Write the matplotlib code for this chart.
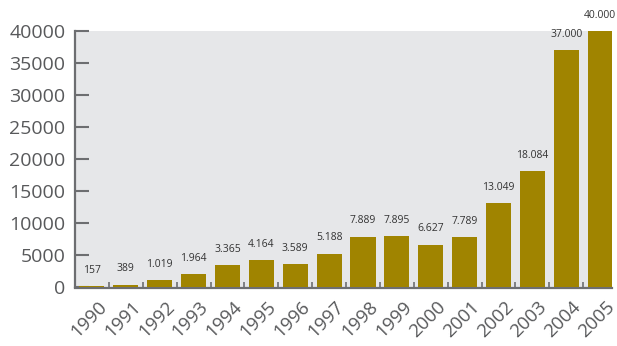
import matplotlib
matplotlib.use("Agg")
import matplotlib.pyplot as plt
from matplotlib.ticker import FixedLocator
import matplotlib.transforms as mtransforms

years = ["1990", "1991", "1992", "1993", "1994", "1995", "1996", "1997",
         "1998", "1999", "2000", "2001", "2002", "2003", "2004", "2005"]
values = [157, 389, 1019, 1964, 3365, 4164, 3589, 5188,
          7889, 7895, 6627, 7789, 13049, 18084, 37000, 40000]
y_ticks = [0, 5000, 10000, 15000, 20000, 25000, 30000, 35000, 40000]

plt.rcParams['font.family'] = ['Open Sans', 'DejaVu Sans']

BAR = "#A08400"
BG = "#E6E7E9"
AXIS = "#6D6E71"
TXT = "#58595B"

fig = plt.figure(figsize=(6.17, 3.46), dpi=100)
ax = fig.add_axes([75 / 617, 1 - 287 / 346, (612 - 75) / 617, (287 - 31) / 346])
ax.set_facecolor(BG)

x = list(range(len(years)))
ax.bar(x, values, width=0.74, color=BAR, zorder=3)

for xi, v in zip(x, values):
    label = f"{v:,}".replace(",", ".")
    ax.annotate(label, (xi, v), xytext=(0, 7.5), textcoords="offset points",
                ha="center", va="bottom", fontsize=7.5, color="#333333",
                annotation_clip=False)

ax.set_xlim(-0.5, 15.35)
ax.set_ylim(0, 40000)

for s in ("top", "right"):
    ax.spines[s].set_visible(False)
for s in ("left", "bottom"):
    ax.spines[s].set_color(AXIS)
    ax.spines[s].set_linewidth(1.6)
ax.spines["bottom"].set_position(("outward", 0.8))

ax.set_yticks(y_ticks)
ax.set_yticklabels([str(t) for t in y_ticks])
ax.tick_params(axis="y", direction="in", length=10, width=1.5, color=AXIS,
               labelsize=14, labelcolor=TXT, pad=7)

ax.set_xticks(x)
ax.set_xticklabels(years, rotation=45, ha="right", va="top",
                   rotation_mode="anchor")
ax.tick_params(axis="x", which="major", length=0, labelsize=13.5,
               labelcolor=TXT, pad=7)
ax.xaxis.set_minor_locator(FixedLocator([i + 0.5 for i in range(len(years))]))
ax.tick_params(axis="x", which="minor", direction="in", length=4, width=1.2,
               color=AXIS)

shift = mtransforms.ScaledTranslation(4 / 72, 0, fig.dpi_scale_trans)
for lab in ax.get_xticklabels():
    lab.set_transform(lab.get_transform() + shift)

fig.savefig("out.png", dpi=100)
